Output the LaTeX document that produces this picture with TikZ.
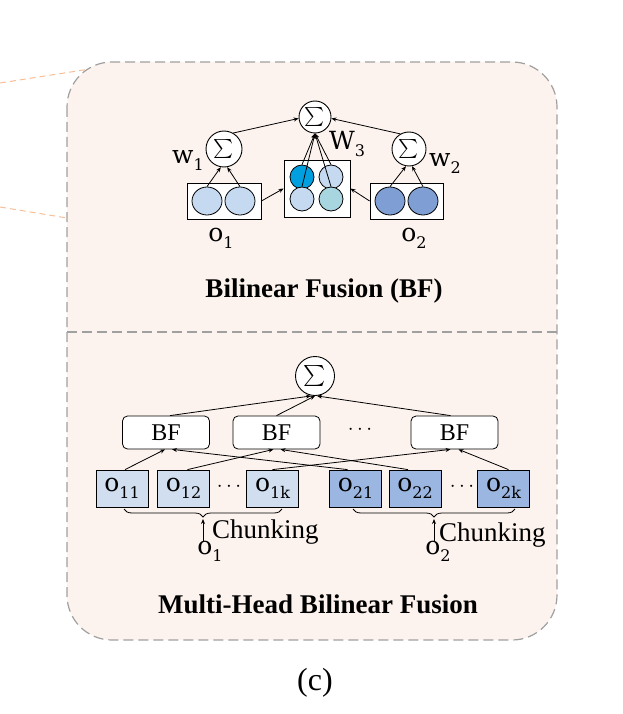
\documentclass[tikz,border=0pt]{standalone}
\usepackage{fontspec}
\setmainfont{Liberation Serif}
\newfontfamily\dvs{DejaVu Serif}
\usetikzlibrary{arrows.meta,decorations.pathreplacing,shapes.geometric}
\definecolor{panelfill}{RGB}{253,243,238}
\definecolor{panelline}{RGB}{160,160,160}
\definecolor{orangeline}{RGB}{248,190,150}
\definecolor{lightc}{RGB}{197,217,241}
\definecolor{brightc}{RGB}{0,160,224}
\definecolor{tealc}{RGB}{168,214,224}
\definecolor{darkc}{RGB}{127,159,212}
\definecolor{lightsq}{RGB}{208,222,240}
\definecolor{darksq}{RGB}{155,182,224}
\newcommand{\ovar}[2]{{\dvs #1}\raisebox{-0.28em}{\fontsize{16}{16}\selectfont\dvs #2}}
\newcommand{\bigsum}[1]{\scalebox{#1}{$\sum$}}
\newcommand{\smdots}{$\cdots$}
\tikzset{
  arr/.style={-{Stealth[length=5pt,width=4pt]}, line width=0.8pt},
  sig/.style={circle, draw, fill=white, line width=0.9pt, inner sep=0pt},
  cbox/.style={draw, fill=white, line width=0.8pt, inner sep=0pt},
  cel/.style={ellipse, draw, line width=0.8pt, inner sep=0pt, minimum width=30pt, minimum height=28pt},
  csm/.style={circle, draw, line width=0.8pt, inner sep=0pt, minimum size=24pt},
  bfbox/.style={draw, fill=white, rounded corners=5pt, line width=0.8pt, minimum width=87pt, minimum height=33pt, inner sep=0pt, font=\fontsize{24}{24}\selectfont},
  osq/.style={draw, line width=0.8pt, minimum width=52pt, minimum height=37pt, inner sep=0pt, font=\fontsize{25}{25}\selectfont},
  lbl/.style={inner sep=0pt, font=\fontsize{25}{25}\selectfont},
  dts/.style={inner sep=0pt, font=\fontsize{20}{20}\selectfont},
  ttl/.style={inner sep=0pt, font=\fontsize{27}{27}\selectfont\bfseries},
  pdash/.style={draw=panelline, line width=1.2pt, dash pattern=on 10pt off 5pt}
}
\begin{document}
\begin{tikzpicture}[x=1pt,y=-1pt]
\useasboundingbox (0,0) rectangle (622,714);
% orange zoom lines
\draw[orangeline, line width=1pt, dash pattern=on 6pt off 4pt] (0,83) -- (90,69);
\draw[orangeline, line width=1pt, dash pattern=on 6pt off 4pt] (0,207) -- (67,218);
% panel
\filldraw[fill=panelfill, pdash, rounded corners=45pt] (67,62) rectangle (557,640);
\draw[pdash] (67,332) -- (557,332);

% ---------- Bilinear Fusion ----------
\node[sig, minimum size=32pt] (tS) at (315,117) {\bigsum{1.9}};
\node[sig, minimum size=36pt] (lS) at (224,149) {\bigsum{1.9}};
\node[sig, minimum size=34pt] (rS) at (409,149) {\bigsum{1.9}};

\node[cbox, minimum width=74pt, minimum height=36pt] (b1) at (224,201) {};
\node[cbox, minimum width=66pt, minimum height=57pt] (bm) at (317,188.5) {};
\node[cbox, minimum width=73pt, minimum height=36pt] (b2) at (406.5,201) {};

\node[cel, fill=lightc] (c11) at (207,201) {};
\node[cel, fill=lightc] (c12) at (240,201) {};
\node[cel, fill=darkc] (c21) at (390,201) {};
\node[cel, fill=darkc] (c22) at (423,201) {};

\node[csm, fill=brightc] (m11) at (302,177) {};
\node[csm, fill=lightc] (m12) at (331,177) {};
\node[csm, fill=lightc] (m21) at (302,199) {};
\node[csm, fill=tealc] (m22) at (331,199) {};

\draw[arr] (c11.north) -- (lS.-100);
\draw[arr] (c12.north) -- (lS.-80);
\draw[arr] (c21.north) -- (rS.-100);
\draw[arr] (c22.north) -- (rS.-80);
\draw[arr] (m11.north) -- (tS.south);
\draw[arr] (m12.north) -- (tS.south);
\draw[arr] (m21.north) -- (tS.south);
\draw[arr] (m22.north) -- (tS.south);
\draw[arr] (b1.east) -- (bm.west);
\draw[arr] (b2.west) -- (bm.east);
\draw[arr] (lS.60) -- (tS.185);
\draw[arr] (rS.120) -- (tS.-5);

\node[lbl] (w1) at (188,161) {\ovar{w}{1}};
\node[lbl] (w3) at (347,144) {\ovar{W}{3}};
\node[lbl] (w2) at (445,164) {\ovar{w}{2}};
\node[lbl] (o1a) at (221,238) {\ovar{o}{1}};
\node[lbl] (o2a) at (414,238) {\ovar{o}{2}};

\node[ttl] (t1) at (324,291) {Bilinear Fusion (BF)};

% ---------- Multi-Head ----------
\node[sig, minimum size=39pt] (bS) at (315,376) {\bigsum{2.1}};
\node[bfbox] (bf1) at (166,432.5) {BF};
\node[bfbox] (bf2) at (276.5,432.5) {BF};
\node[bfbox] (bf3) at (454.5,432.5) {BF};
\node[dts] (dd) at (360,430) {\smdots};

\node[osq, fill=lightsq] (o11) at (122,488.5) {\ovar{o}{11}};
\node[osq, fill=lightsq] (o12) at (183.5,488.5) {\ovar{o}{12}};
\node[dts] (d1) at (229,487) {\smdots};
\node[osq, fill=lightsq] (o1k) at (272.5,488.5) {\ovar{o}{1k}};
\node[osq, fill=darksq] (o21) at (355.5,488.5) {\ovar{o}{21}};
\node[osq, fill=darksq] (o22) at (415,488.5) {\ovar{o}{22}};
\node[dts] (d2) at (462,487) {\smdots};
\node[osq, fill=darksq] (o2k) at (503.5,488.5) {\ovar{o}{2k}};

\draw[arr] ([xshift=3pt]o11.north) -- ([xshift=-1pt]bf1.south);
\draw[arr] ([xshift=-8pt]o21.north) -- ([xshift=6pt]bf1.south);
\draw[arr] ([xshift=4pt]o12.north) -- ([xshift=-3pt]bf2.south);
\draw[arr] ([xshift=-7pt]o22.north) -- ([xshift=4pt]bf2.south);
\draw[arr] (o1k.north) -- ([xshift=-4pt]bf3.south);
\draw[arr] ([xshift=5pt]o2k.north) -- ([xshift=4pt]bf3.south);
\draw[arr] ([xshift=4pt]bf1.north) -- ([xshift=-4pt]bS.south);
\draw[arr] (bf2.north) -- (bS.south);
\draw[arr] ([xshift=-4pt]bf3.north) -- ([xshift=2pt]bS.south);

\draw[line width=0.8pt, decorate, decoration={brace, mirror, amplitude=8pt}] (124,509) -- (282,509);
\draw[line width=0.8pt, decorate, decoration={brace, mirror, amplitude=8pt}] (353,509) -- (515,509);
\coordinate (tip1) at (203,519);
\coordinate (tip2) at (434,519);
\node[lbl] (o1b) at (210,551) {\ovar{o}{1}};
\node[lbl] (o2b) at (438,551) {\ovar{o}{2}};
\draw[arr] (o1b.north -| tip1) -- (tip1);
\draw[arr] (o2b.north -| tip2) -- (tip2);
\node[lbl, anchor=west, font=\fontsize{27}{27}\selectfont] (ch1) at (212,532) {Chunking};
\node[lbl, anchor=west, font=\fontsize{27}{27}\selectfont] (ch2) at (439,535) {Chunking};

\node[ttl] (t2) at (318,604) {Multi-Head Bilinear Fusion};
\node[lbl, font=\fontsize{32}{32}\selectfont] (cc) at (315,683) {(c)};
\end{tikzpicture}
\end{document}
